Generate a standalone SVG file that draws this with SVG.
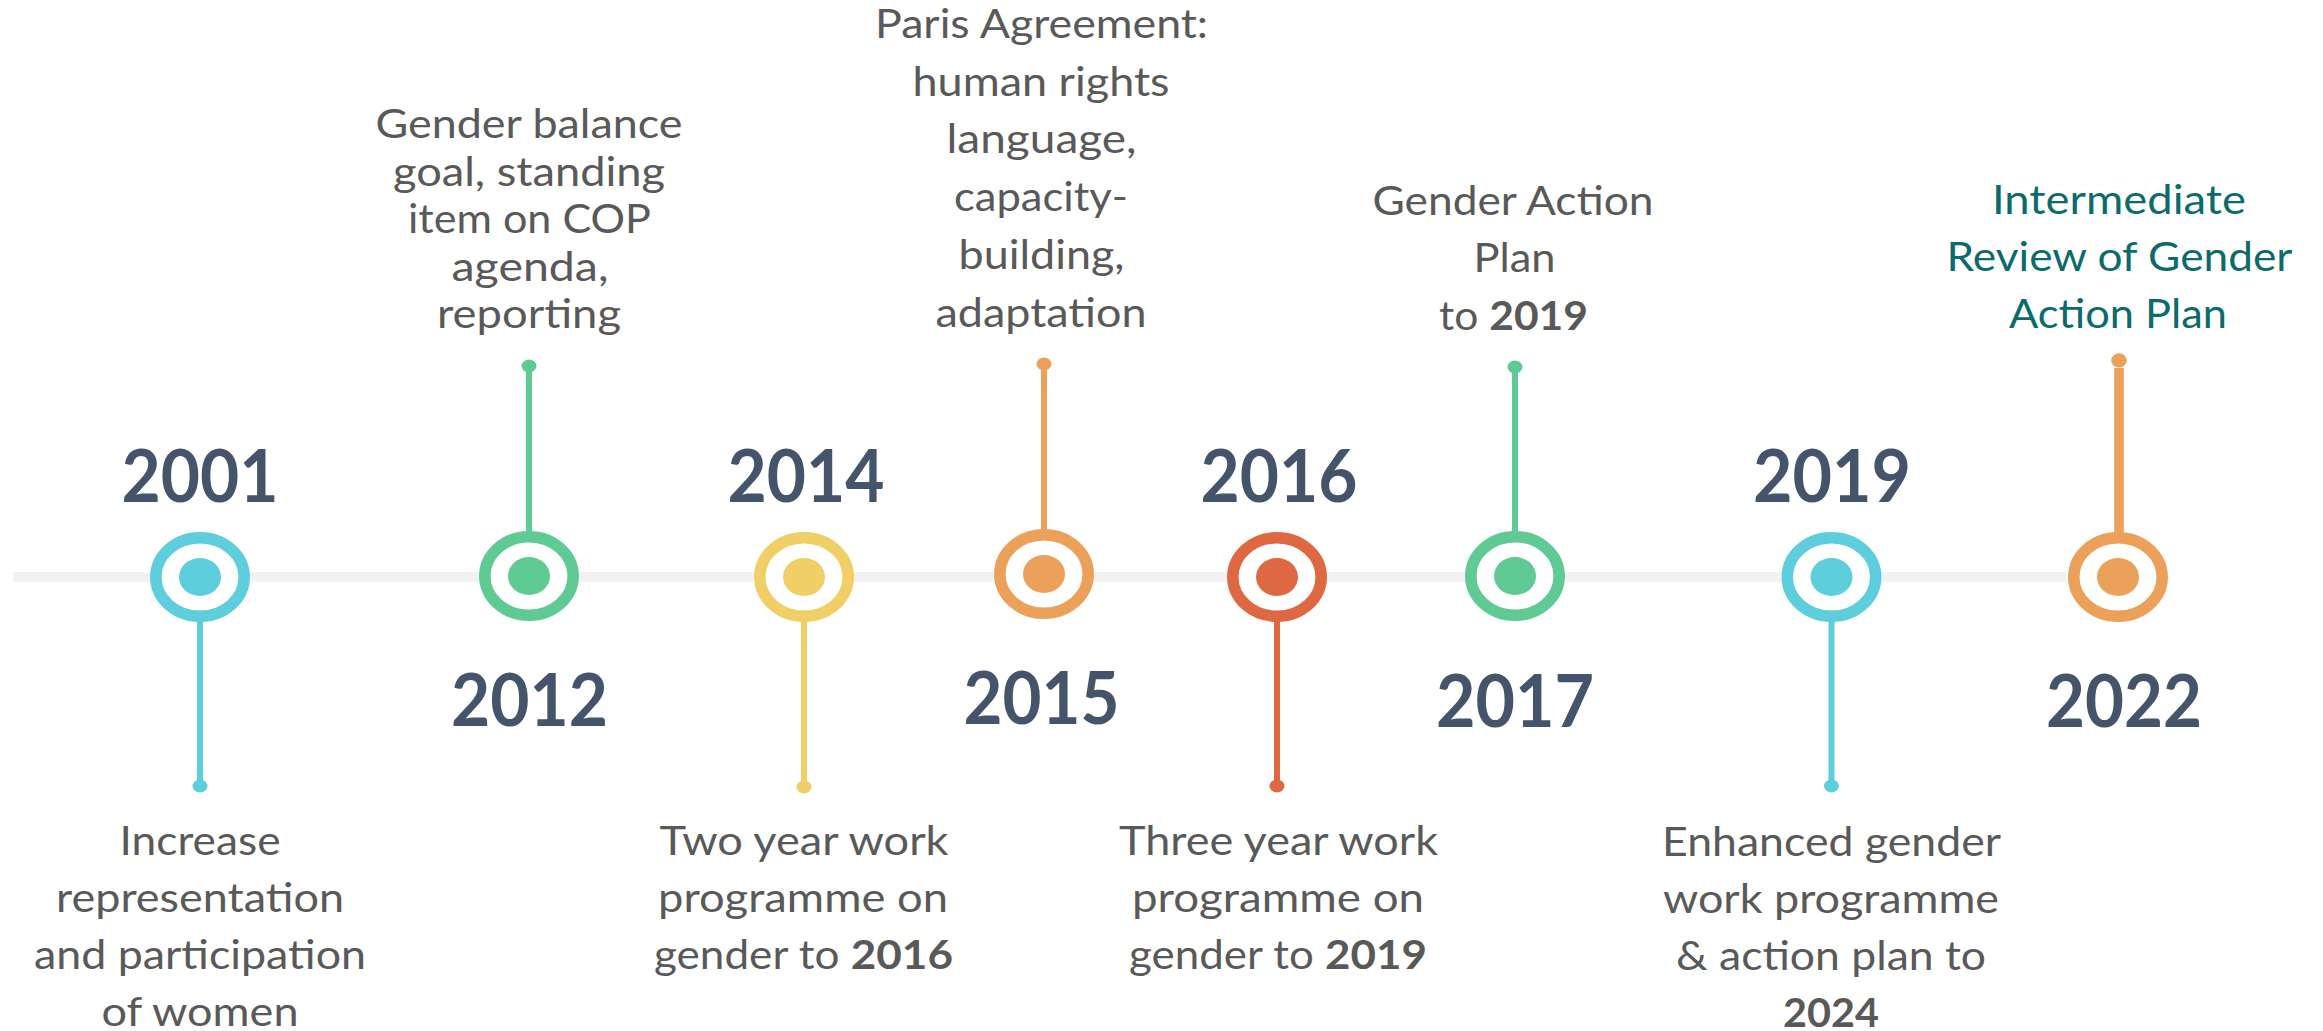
<svg xmlns="http://www.w3.org/2000/svg" width="2323" height="1031" viewBox="0 0 2323 1031">
<style>
.desc{font-family:Lato,"Open Sans","Liberation Sans",sans-serif;font-size:41px;fill:#595959;text-anchor:middle}
.teal{fill:#0B6B6B}
.b{font-weight:700}
.year{font-family:Lato,"Open Sans","Liberation Sans",sans-serif;font-weight:700;font-size:72px;fill:#44546A;text-anchor:middle}
.ring{fill:#FFFFFF;stroke-width:11.5}
.cyan{stroke:#5ECEDD;fill:#5ECEDD}
.green{stroke:#5FCA93;fill:#5FCA93}
.yellow{stroke:#F0CF66;fill:#F0CF66}
.orange{stroke:#ECA15A;fill:#ECA15A}
.red{stroke:#DE6841;fill:#DE6841}
.stem{stroke-width:6;fill:none}
.ring.cyan,.ring.green,.ring.yellow,.ring.orange,.ring.red{fill:#FFFFFF}
.dot{stroke:none}
</style>
<g id="connectors">
<rect id="timeline" x="13" y="572" width="2053" height="10" fill="#F2F2F2"/>
</g>
<g id="n2001">
<line class="stem cyan" x1="200" y1="620" x2="200" y2="786"/>
<ellipse class="dot cyan" cx="200" cy="786" rx="7.5" ry="6.5"/>
<ellipse class="ring cyan" cx="200" cy="577" rx="44.2" ry="39.3"/>
<ellipse class="dot cyan" cx="200" cy="577" rx="21" ry="19"/>
<text class="year" x="200" y="502" textLength="157" lengthAdjust="spacingAndGlyphs">2001</text>
<text class="desc" x="200" y="855" textLength="161" lengthAdjust="spacingAndGlyphs">Increase</text>
<text class="desc" x="200" y="912" textLength="288" lengthAdjust="spacingAndGlyphs">representation</text>
<text class="desc" x="200" y="969" textLength="332" lengthAdjust="spacingAndGlyphs">and participation</text>
<text class="desc" x="200" y="1026" textLength="197" lengthAdjust="spacingAndGlyphs">of women</text>
</g>
<g id="n2012">
<line class="stem green" x1="529" y1="366" x2="529" y2="533"/>
<ellipse class="dot green" cx="529" cy="366" rx="7.5" ry="6.5"/>
<ellipse class="ring green" cx="529" cy="576" rx="44.2" ry="39.3"/>
<ellipse class="dot green" cx="529" cy="576" rx="21" ry="19"/>
<text class="year" x="529.5" y="726" textLength="157" lengthAdjust="spacingAndGlyphs">2012</text>
<text class="desc" x="529" y="138" textLength="307" lengthAdjust="spacingAndGlyphs">Gender balance</text>
<text class="desc" x="529" y="185.5" textLength="272" lengthAdjust="spacingAndGlyphs">goal, standing</text>
<text class="desc" x="529.5" y="233" textLength="243" lengthAdjust="spacingAndGlyphs">item on COP</text>
<text class="desc" x="530" y="280.5" textLength="157" lengthAdjust="spacingAndGlyphs">agenda,</text>
<text class="desc" x="529" y="328" textLength="184" lengthAdjust="spacingAndGlyphs">reporting</text>
</g>
<g id="n2014">
<line class="stem yellow" x1="804" y1="620" x2="804" y2="787"/>
<ellipse class="dot yellow" cx="804" cy="787" rx="7.5" ry="6.5"/>
<ellipse class="ring yellow" cx="804" cy="577" rx="44.2" ry="39.3"/>
<ellipse class="dot yellow" cx="804" cy="577" rx="21" ry="19"/>
<text class="year" x="806" y="502" textLength="157" lengthAdjust="spacingAndGlyphs">2014</text>
<text class="desc" x="804" y="855" textLength="289" lengthAdjust="spacingAndGlyphs">Two year work</text>
<text class="desc" x="803" y="912" textLength="290" lengthAdjust="spacingAndGlyphs">programme on</text>
<text class="desc" x="803.5" y="969" textLength="299" lengthAdjust="spacingAndGlyphs">gender to <tspan class="b">2016</tspan></text>
</g>
<g id="n2015">
<line class="stem orange" x1="1044" y1="364" x2="1044" y2="530"/>
<ellipse class="dot orange" cx="1044" cy="364" rx="7.5" ry="6.5"/>
<ellipse class="ring orange" cx="1044" cy="574" rx="44.2" ry="39.3"/>
<ellipse class="dot orange" cx="1044" cy="574" rx="21" ry="19"/>
<text class="year" x="1041.5" y="724" textLength="156" lengthAdjust="spacingAndGlyphs">2015</text>
<text class="desc" x="1041.5" y="37.5" textLength="333" lengthAdjust="spacingAndGlyphs">Paris Agreement:</text>
<text class="desc" x="1041" y="95.5" textLength="257" lengthAdjust="spacingAndGlyphs">human rights</text>
<text class="desc" x="1041.5" y="153.3" textLength="190" lengthAdjust="spacingAndGlyphs">language,</text>
<text class="desc" x="1041" y="211" textLength="174" lengthAdjust="spacingAndGlyphs">capacity-</text>
<text class="desc" x="1041.5" y="268.7" textLength="166" lengthAdjust="spacingAndGlyphs">building,</text>
<text class="desc" x="1041" y="326.5" textLength="211" lengthAdjust="spacingAndGlyphs">adaptation</text>
</g>
<g id="n2016">
<line class="stem red" x1="1277" y1="620" x2="1277" y2="786"/>
<ellipse class="dot red" cx="1277" cy="786" rx="7.5" ry="6.5"/>
<ellipse class="ring red" cx="1277" cy="577" rx="44.2" ry="39.3"/>
<ellipse class="dot red" cx="1277" cy="577" rx="21" ry="19"/>
<text class="year" x="1279" y="502" textLength="157" lengthAdjust="spacingAndGlyphs">2016</text>
<text class="desc" x="1278.5" y="855" textLength="319" lengthAdjust="spacingAndGlyphs">Three year work</text>
<text class="desc" x="1278" y="912" textLength="292" lengthAdjust="spacingAndGlyphs">programme on</text>
<text class="desc" x="1278" y="969" textLength="298" lengthAdjust="spacingAndGlyphs">gender to <tspan class="b">2019</tspan></text>
</g>
<g id="n2017">
<line class="stem green" x1="1515" y1="367" x2="1515" y2="533"/>
<ellipse class="dot green" cx="1515" cy="367" rx="7.5" ry="6.5"/>
<ellipse class="ring green" cx="1515" cy="576" rx="44.2" ry="39.3"/>
<ellipse class="dot green" cx="1515" cy="576" rx="21" ry="19"/>
<text class="year" x="1515" y="727" textLength="158" lengthAdjust="spacingAndGlyphs">2017</text>
<text class="desc" x="1513" y="215" textLength="281" lengthAdjust="spacingAndGlyphs">Gender Action</text>
<text class="desc" x="1514.5" y="272" textLength="82" lengthAdjust="spacingAndGlyphs">Plan</text>
<text class="desc" x="1513.5" y="330" textLength="149" lengthAdjust="spacingAndGlyphs">to <tspan class="b">2019</tspan></text>
</g>
<g id="n2019">
<line class="stem cyan" x1="1831.5" y1="620" x2="1831.5" y2="786"/>
<ellipse class="dot cyan" cx="1831.5" cy="786" rx="7.5" ry="6.5"/>
<ellipse class="ring cyan" cx="1831.5" cy="577" rx="44.2" ry="39.3"/>
<ellipse class="dot cyan" cx="1831.5" cy="577" rx="21" ry="19"/>
<text class="year" x="1832" y="502" textLength="158" lengthAdjust="spacingAndGlyphs">2019</text>
<text class="desc" x="1831.5" y="856" textLength="339" lengthAdjust="spacingAndGlyphs">Enhanced gender</text>
<text class="desc" x="1831" y="913" textLength="336" lengthAdjust="spacingAndGlyphs">work programme</text>
<text class="desc" x="1831" y="970" textLength="310" lengthAdjust="spacingAndGlyphs">&amp; action plan to</text>
<text class="desc b" x="1831" y="1026.5" textLength="96" lengthAdjust="spacingAndGlyphs">2024</text>
</g>
<g id="n2022">
<rect x="2114.2" y="368" width="9.6" height="167" fill="#ECA15A"/>
<ellipse class="dot orange" cx="2119" cy="360.5" rx="7.8" ry="7.2"/>
<ellipse class="ring orange" cx="2118" cy="577" rx="44.2" ry="39.3"/>
<ellipse class="dot orange" cx="2118" cy="577" rx="21" ry="19"/>
<text class="year" x="2124" y="727" textLength="156" lengthAdjust="spacingAndGlyphs">2022</text>
<text class="desc teal" x="2119" y="213.5" textLength="254" lengthAdjust="spacingAndGlyphs">Intermediate</text>
<text class="desc teal" x="2119.5" y="270.5" textLength="346" lengthAdjust="spacingAndGlyphs">Review of Gender</text>
<text class="desc teal" x="2118" y="328" textLength="218" lengthAdjust="spacingAndGlyphs">Action Plan</text>
</g>
</svg>
